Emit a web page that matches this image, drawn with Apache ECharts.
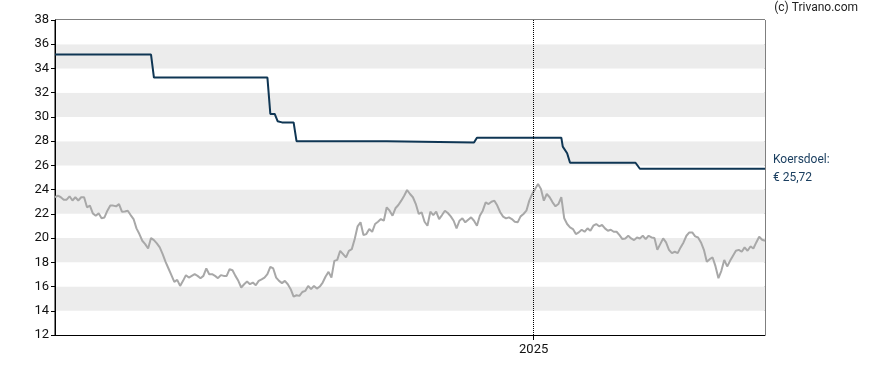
<!DOCTYPE html>
<html>
<head>
<meta charset="utf-8">
<script src="https://cdn.jsdelivr.net/npm/echarts@6/dist/echarts.min.js"></script>
<style>
html,body{margin:0;padding:0;background:#fff;}
#chart{width:888px;height:370px;}
</style>
</head>
<body>
<div id="chart"></div>
<script>
// ---- data ----
const priceStart = '2024-02-07';
const priceStepDays = 2;
const priceValues = [
 23.37,23.5,23.37,23.17,23.17,23.45,23.1,23.37,23.1,23.37,
 23.37,22.54,22.68,22.04,21.85,22.04,21.63,21.7,22.26,22.68,
 22.68,22.62,22.8,22.18,22.2,22.26,21.9,21.57,20.8,20.33,
 19.78,19.5,19.14,20.0,19.83,19.56,19.23,18.68,18.04,17.49,
 16.94,16.39,16.55,16.05,16.47,16.94,16.74,16.88,17.02,16.88,
 16.69,16.88,17.49,17.02,17.02,16.88,16.69,16.94,16.88,16.88,
 17.43,17.35,16.88,16.47,15.92,16.19,16.41,16.19,16.33,16.11,
 16.47,16.6,16.74,17.02,17.63,17.49,16.74,16.47,16.28,16.47,
 16.19,15.78,15.17,15.28,15.23,15.55,
 15.64,16.05,15.78,16.05,15.83,16.0,16.33,16.83,17.21,16.74,
 18.12,18.2,18.95,18.68,18.4,18.95,19.09,19.92,20.97,21.3,
 20.25,20.33,20.74,20.52,21.16,21.35,21.57,21.43,22.54,22.26,
 21.85,22.46,22.73,23.09,23.5,23.97,23.64,23.37,22.81,21.99,
 22.13,21.35,21.02,22.18,21.9,22.18,21.57,21.9,22.26,22.07,
 21.79,21.43,20.8,21.43,21.63,21.3,21.52,21.71,21.43,21.02,
 21.85,22.26,22.95,22.81,23.0,23.09,22.68,22.13,21.77,21.63,
 21.71,21.57,21.35,21.3,21.79,21.99,22.26,23.09,23.64,24.06,
 24.47,24.06,23.09,23.64,23.37,22.95,22.62,22.81,23.37,21.63,
 21.16,20.88,20.74,20.33,20.47,20.69,
 20.52,20.8,20.6,21.02,21.16,20.97,21.08,20.8,20.6,20.69,
 20.52,20.52,20.25,19.92,19.97,20.19,19.97,19.83,20.05,19.97,
 20.19,19.92,20.19,20.05,20.0,19.03,19.5,19.97,19.64,19.03,
 18.76,18.87,18.76,19.23,19.64,20.19,20.47,20.47,20.14,20.05,
 19.64,19.03,18.04,18.26,18.4,17.66,16.69,17.3,18.2,17.66,
 18.12,18.54,18.95,19.03,18.87,19.23,18.95,19.31,19.14,19.64,
 20.11,19.86,19.78
];
const targetDates = [
 '2024-02-07','2024-04-13','2024-04-15','2024-07-02','2024-07-04','2024-07-07',
 '2024-07-09','2024-07-12','2024-07-20','2024-07-22','2024-09-22','2024-09-23',
 '2024-11-21','2024-11-23','2025-01-20','2025-01-21','2025-01-24','2025-01-26',
 '2025-03-12','2025-03-15','2025-06-09'
];
const targetValues = [
 35.15,35.15,33.25,33.25,30.25,30.25,
 29.65,29.55,29.55,28.0,28.0,27.88,
 27.88,28.29,28.29,27.55,27.0,26.22,
 26.22,25.72,25.72
];
const yearTicks = ['2025-01-01'];
const yearLabels = ['2025'];
const yMin = 12, yMax = 38, yStep = 2;
const targetLabel = 'Koersdoel:';
const copyright = '(c) Trivano.com';

// ---- build ----
function ts(s){ const p = s.split('-').map(Number); return Date.UTC(p[0], p[1]-1, p[2]); }
const DAY = 86400000;
const startTs = ts(priceStart);
const priceData = priceValues.map((v, i) => [startTs + i * priceStepDays * DAY, v]);
const targetData = targetDates.map((d, i) => [ts(d), targetValues[i]]);
const xMin = startTs;
const xMax = priceData[priceData.length - 1][0];
const tickVals = yearTicks.map(ts);

const chart = echarts.init(document.getElementById('chart'), null, {renderer: 'canvas'});
const font = 'Roboto, "Liberation Sans", Arial, sans-serif';
chart.setOption({
  animation: false,
  backgroundColor: '#ffffff',
  grid: {left: 55, right: 123, top: 20, bottom: 35, show: true, borderColor: '#000', borderWidth: 1, backgroundColor: 'transparent'},
  xAxis: {
    type: 'value', min: xMin, max: xMax,
    axisLine: {show: true, lineStyle: {color: '#000', width: 1}},
    axisTick: {show: true, customValues: tickVals, length: 5, lineStyle: {color: '#000'}},
    axisLabel: {show: true, customValues: tickVals, margin: 8, color: '#111', fontFamily: font, fontSize: 13,
      formatter: v => { const i = tickVals.indexOf(v); return i >= 0 ? yearLabels[i] : ''; }},
    splitLine: {show: false}
  },
  yAxis: {
    type: 'value', min: yMin, max: yMax, interval: yStep,
    axisLine: {show: true, lineStyle: {color: '#000', width: 1}},
    axisTick: {show: true, length: 4, lineStyle: {color: '#000'}},
    axisLabel: {color: '#111', fontFamily: font, fontSize: 13, margin: 6},
    splitLine: {show: false},
    splitArea: {show: true, areaStyle: {color: ['#ffffff', '#ececec']}}
  },
  graphic: [{
    type: 'text', right: 30, top: 2,
    style: {text: copyright, fill: '#222', font: '12px ' + font}
  }],
  series: [
    {
      type: 'line', data: priceData, showSymbol: false, symbol: 'none',
      lineStyle: {color: '#a8a8a8', width: 2}, z: 2,
      markLine: {
        silent: true, symbol: 'none', label: {show: false},
        lineStyle: {color: '#000', type: 'dotted', width: 1},
        data: tickVals.map(v => ({xAxis: v}))
      }
    },
    {
      type: 'line', data: targetData, showSymbol: false, symbol: 'none',
      lineStyle: {color: '#0f3654', width: 2}, z: 3,
      endLabel: {
        show: true, distance: 8, color: '#1b3f60', fontFamily: font, fontSize: 12, lineHeight: 18,
        align: 'left',
        formatter: p => targetLabel + '\n€ ' + p.value[1].toFixed(2).replace('.', ',')
      }
    }
  ]
});
</script>
</body>
</html>
